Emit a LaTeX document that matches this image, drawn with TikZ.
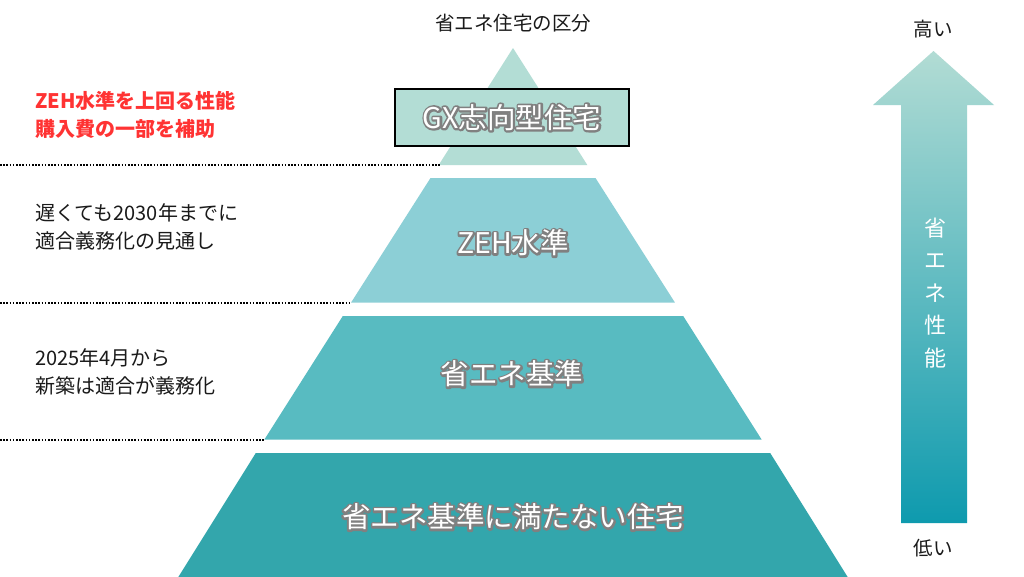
\documentclass[tikz,border=0pt]{standalone}
\usepackage{fontspec}
\setmainfont{Noto Sans CJK JP}
\definecolor{lvA}{HTML}{B3DDD5}
\definecolor{lvB}{HTML}{8CCFD6}
\definecolor{lvC}{HTML}{58BBC1}
\definecolor{lvD}{HTML}{33A6AC}
\definecolor{arrTop}{HTML}{B2DCD4}
\definecolor{arrMid}{HTML}{7FC8CF}
\definecolor{arrBot}{HTML}{0E9AAE}
\definecolor{halogray}{HTML}{7F7F7F}
\definecolor{noteRed}{HTML}{FF3333}
\definecolor{inkc}{HTML}{1A1A1A}
\newcommand\halo[1]{%
  \rlap{\textcolor{halogray}{\special{pdf:literal direct 1 Tr 4 w 1 j 0.5 G}#1\special{pdf:literal direct 0 Tr}}}%
  \textcolor{white}{#1}}
\begin{document}
\begin{tikzpicture}[x=1pt,y=-1pt,
  layerlabel/.style={inner sep=0pt,font=\fontsize{28.5}{32}\selectfont},
  note/.style={anchor=west,align=left,inner sep=0pt,text=inkc,font=\fontsize{20}{28}\selectfont},
  rednote/.style={note,text=noteRed,font=\fontsize{20}{28}\selectfont\bfseries},
  plain/.style={inner sep=0pt,text=inkc,font=\fontsize{19.5}{24}\selectfont},
  guide/.style={draw=black,line width=2pt,dash pattern=on 1.6pt off 1.6pt}]
\useasboundingbox (0,0) rectangle (1024,576);
\fill[white] (0,0) rectangle (1024,576);

% pyramid
\fill[lvA] (513,48) -- (587.3,165) -- (438.7,165) -- cycle;
\fill[lvB] (430.5,178) -- (595.5,178) -- (674.9,302.5) -- (351.1,302.5) -- cycle;
\fill[lvC] (342.8,316) -- (683.2,316) -- (761.6,439.5) -- (264.4,439.5) -- cycle;
\fill[lvD] (255.8,453) -- (770.2,453) -- (848.3,578) -- (177.7,578) -- cycle;

% guide lines
\coordinate (g1a) at (0,165);   \coordinate (g1b) at (440,165);
\coordinate (g2a) at (0,302.5); \coordinate (g2b) at (351,302.5);
\coordinate (g3a) at (0,439.5); \coordinate (g3b) at (264.4,439.5);
\draw[guide] (g1a) -- (g1b);
\draw[guide] (g2a) -- (g2b);
\draw[guide] (g3a) -- (g3b);

% GX box
\node[draw=black,line width=1.8pt,fill=lvA,minimum width=234pt,minimum height=57pt,inner sep=0pt,
      layerlabel] (gx) at (512,117.5) {\halo{GX志向型住宅}};
\node[layerlabel] (zeh) at (513,243) {\halo{ZEH水準}};
\node[layerlabel] (std) at (512,374) {\halo{省エネ基準}};
\node[layerlabel] (low) at (513,517) {\halo{省エネ基準に満たない住宅}};

% title
\node[plain] (title) at (513,23) {省エネ住宅の区分};

% left notes
\node[rednote] (n1) at (35,115) {ZEH水準を上回る性能\\購入費の一部を補助};
\node[note] (n2) at (35,227) {遅くても2030年までに\\適合義務化の見通し};
\node[note] (n3) at (35,372) {2025年4月から\\新築は適合が義務化};

% arrow
\shade[top color=arrTop,middle color=arrMid,bottom color=arrBot]
  (901,523) -- (901,105) -- (873,105) -- (933.5,51) -- (994,105) -- (967,105) -- (967,523) -- cycle;
\node[inner sep=0pt,align=center,text=white,font=\fontsize{22}{32.5}\selectfont] (perf) at (935,293)
  {省\\エ\\ネ\\性\\能};
\node[plain] (high) at (933,29) {高い};
\node[plain] (lowp) at (933,548) {低い};
\end{tikzpicture}
\end{document}
